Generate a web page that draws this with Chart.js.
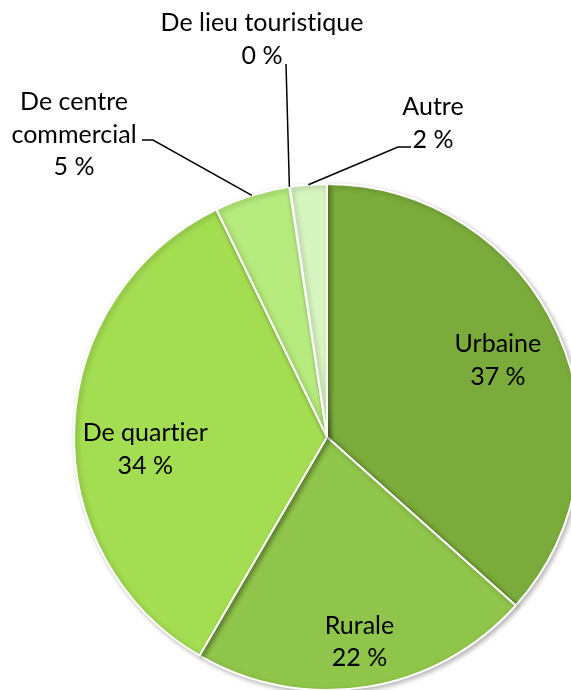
<!DOCTYPE html>
<html>
<head>
<meta charset="utf-8">
<script src="https://cdn.jsdelivr.net/npm/chart.js@4"></script>
<style>
  html, body { margin: 0; padding: 0; background: #fff; overflow: hidden; }
  #wrap { width: 571px; height: 690px; overflow: hidden; position: relative; }
  #wrap canvas { position: absolute; left: 0; top: 0; }
</style>
</head>
<body>
<div id="wrap"><canvas id="pie" width="590" height="700"></canvas></div>
<script>
// --- Data ---
const categories = ["Urbaine", "Rurale", "De quartier", "De centre commercial", "De lieu touristique", "Autre"];
const shares = [36.6, 21.8, 34.4, 4.8, 0.05, 2.35];
const shownPercents = ["37 %", "22 %", "34 %", "5 %", "0 %", "2 %"];
const labelLines = [["Urbaine"], ["Rurale"], ["De quartier"], ["De centre", "commercial"], ["De lieu touristique"], ["Autre"]];
const sliceColors = ["#7bac3b", "#8fc54a", "#a3dd52", "#b5ea7c", "#c6f0a2", "#d7f5c0"];

// --- Label layout (inside: radius factor, outside: text box + leader) ---
const FONT = '25px Lato';
const LINE_H = 32.5;
const labelLayout = [
    {inside: true, r: 0.74},
    {inside: true, r: 0.82},
    {inside: true, r: 0.72, da: -6},
    {inside: false, x: 74, y: 102, leader: [[153, 140], [142, 140]]},
    {inside: false, x: 262, y: 23, leader: [[286, 64]]},
    {inside: false, x: 433, y: 107, leader: [[398, 147], [411, 147]]}
];

// Lato joins "ti" into a ligature, a zero width non-joiner keeps them apart
function noLig(t){
    return t.replace(/ti/g, 't\u200Ci');
}

// --- Plugins ---
const shadowPlugin = {
    id: 'shadow',
    beforeDatasetDraw(chart){
        const ctx = chart.ctx;
        ctx.save();
        ctx.shadowColor = 'rgba(0,0,0,0.28)';
        ctx.shadowBlur = 5;
        ctx.shadowOffsetX = 2;
        ctx.shadowOffsetY = 2;
    },
    afterDatasetDraw(chart){
        chart.ctx.restore();
    }
};

const labelPlugin = {
    id: 'pieLabels',
    afterDatasetsDraw(chart){
        const ctx = chart.ctx;
        const arcs = chart.getDatasetMeta(0).data;
        ctx.save();
        ctx.font = FONT;
        ctx.fillStyle = '#000';
        ctx.textAlign = 'center';
        ctx.textBaseline = 'middle';
        arcs.forEach((arc, i) => {
            const lay = labelLayout[i];
            const {x, y, startAngle, endAngle, outerRadius} = arc.getProps(['x', 'y', 'startAngle', 'endAngle', 'outerRadius'], true);
            let mid = (startAngle + endAngle) / 2;
            const lines = labelLines[i].concat([shownPercents[i]]).map(noLig);
            if (lay.inside){
                mid += (lay.da || 0) * Math.PI / 180;
                const cx = x + Math.cos(mid) * outerRadius * lay.r;
                const cy = y + Math.sin(mid) * outerRadius * lay.r;
                const top = cy - (lines.length - 1) * LINE_H / 2;
                lines.forEach((t, k) => ctx.fillText(t, cx, top + k * LINE_H));
            } else {
                // leader line from arc edge
                ctx.beginPath();
                ctx.strokeStyle = '#000';
                ctx.lineWidth = 1.5;
                ctx.moveTo(x + Math.cos(mid) * outerRadius, y + Math.sin(mid) * outerRadius);
                lay.leader.forEach(p => ctx.lineTo(p[0], p[1]));
                ctx.stroke();
                lines.forEach((t, k) => ctx.fillText(t, lay.x, lay.y + k * LINE_H));
            }
        });
        ctx.restore();
    }
};

// --- Chart ---
new Chart(document.getElementById('pie').getContext('2d'), {
    type: 'pie',
    data: {
        labels: categories,
        datasets: [{
            data: shares,
            backgroundColor: sliceColors,
            borderColor: '#ffffff',
            borderWidth: [2, 2, 2, 2, 0, 2]
        }]
    },
    options: {
        responsive: false,
        animation: false,
        radius: 253,
        layout: { padding: { left: 74, top: 184, right: 10, bottom: 10 } },
        plugins: { legend: { display: false }, tooltip: { enabled: false } }
    },
    plugins: [shadowPlugin, labelPlugin]
});
</script>
</body>
</html>
